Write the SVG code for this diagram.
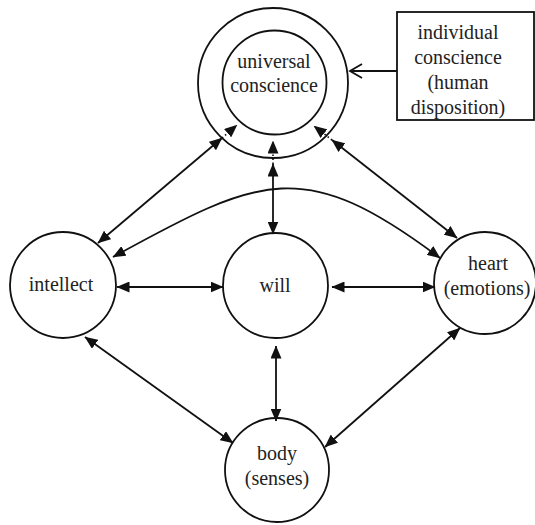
<svg xmlns="http://www.w3.org/2000/svg" width="535" height="525" viewBox="0 0 535 525">
<style>
.n{fill:none;stroke:#111;stroke-width:1.8}
text{font-family:"Liberation Serif","Times New Roman",serif;font-size:20px;fill:#222;text-anchor:middle}
.c{fill:none;stroke:#111;stroke-width:1.8}
.d{fill:none;stroke:#111;stroke-width:1.6;stroke-dasharray:1.5 2.5}
</style>
<defs>
<marker id="a" viewBox="0 0 13 11" refX="12.5" refY="5.5" markerWidth="13" markerHeight="11" markerUnits="userSpaceOnUse" orient="auto-start-reverse">
<path d="M0,0 L13,5.5 L0,11 z" fill="#111"/>
</marker>
</defs>
<rect width="535" height="525" fill="#fff"/>
<g id="universal">
<circle class="n" cx="273" cy="83" r="75"/>
<circle class="n" cx="274.5" cy="82.5" r="52"/>
<text x="274" y="68">universal</text>
<text x="274" y="92">conscience</text>
</g>
<g id="individual">
<rect class="n" x="397" y="12" width="137" height="108"/>
<text x="458" y="39">individual</text>
<text x="458" y="64">conscience</text>
<text x="458" y="89">(human</text>
<text x="458" y="114">disposition)</text>
</g>
<g id="intellect">
<circle class="n" cx="63" cy="285" r="53"/>
<text x="61" y="291">intellect</text>
</g>
<g id="will">
<circle class="n" cx="275.5" cy="285.5" r="52.5"/>
<text x="275" y="292">will</text>
</g>
<g id="heart">
<circle class="n" cx="485" cy="283" r="51"/>
<text x="488" y="270">heart</text>
<text x="487" y="295">(emotions)</text>
</g>
<g id="body">
<circle class="n" cx="277" cy="470" r="52"/>
<text x="277" y="460">body</text>
<text x="277" y="485">(senses)</text>
</g>
<g id="connectors">
<line class="c" x1="397" y1="71" x2="350" y2="71"/>
<polyline class="c" points="362,64 350,71 362,78"/>
<line class="c" x1="98" y1="243" x2="222" y2="138" marker-start="url(#a)" marker-end="url(#a)"/>
<line class="d" x1="222" y1="138" x2="237" y2="125" marker-end="url(#a)"/>
<line class="c" x1="457" y1="238" x2="332" y2="140" marker-start="url(#a)" marker-end="url(#a)"/>
<line class="d" x1="332" y1="140" x2="314" y2="126" marker-end="url(#a)"/>
<line class="c" x1="273" y1="234" x2="273" y2="164" marker-start="url(#a)" marker-end="url(#a)"/>
<line class="d" x1="273" y1="164" x2="273" y2="141" marker-end="url(#a)"/>
<path class="c" d="M113,257 C262,175 304,156 440,258" marker-start="url(#a)" marker-end="url(#a)"/>
<line class="c" x1="117" y1="287" x2="223" y2="287" marker-start="url(#a)" marker-end="url(#a)"/>
<line class="c" x1="332" y1="287" x2="435" y2="287" marker-start="url(#a)" marker-end="url(#a)"/>
<line class="c" x1="85" y1="337" x2="233" y2="443" marker-start="url(#a)" marker-end="url(#a)"/>
<line class="c" x1="460" y1="328" x2="325" y2="447" marker-start="url(#a)" marker-end="url(#a)"/>
<line class="c" x1="276" y1="346" x2="276" y2="421" marker-start="url(#a)" marker-end="url(#a)"/>
</g>
</svg>
